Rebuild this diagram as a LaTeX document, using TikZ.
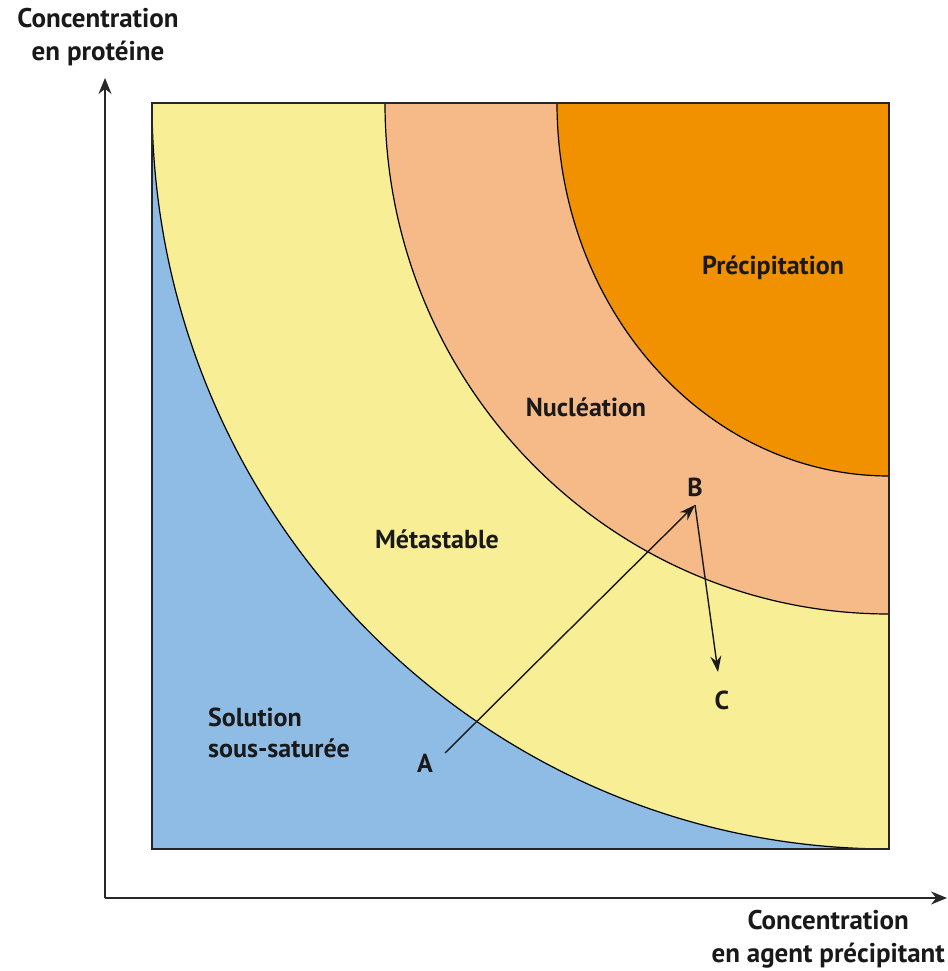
\documentclass[tikz,border=0pt]{standalone}
\usepackage{fontspec}
\setmainfont{PT Sans}
\usetikzlibrary{arrows.meta}
\definecolor{cblue}{RGB}{142,188,228}
\definecolor{cyellow}{RGB}{247,238,150}
\definecolor{clorange}{RGB}{246,186,136}
\definecolor{cdorange}{RGB}{241,145,0}
\definecolor{caxis}{RGB}{40,40,40}
\tikzset{
  lab/.style={font=\bfseries\fontsize{26}{31}\selectfont, text=black!90, inner sep=0pt},
  axlab/.style={font=\bfseries\fontsize{27}{33}\selectfont, text=black!90, inner sep=0pt, align=center},
  bnd/.style={draw=black, line width=1.2pt},
  axis/.style={draw=caxis, line width=2pt, -{Stealth[length=16pt,width=13pt]}},
  move/.style={draw=black!90, line width=1.4pt, -{Stealth[length=16pt,width=11pt]}}
}
\begin{document}
\begin{tikzpicture}[x=1pt,y=1pt]
\useasboundingbox (0,0) rectangle (947,971);
% regions
\fill[cyellow] (152,122) rectangle (889,868);
\fill[cblue] (152,868) arc[start angle=180,end angle=270,x radius=737,y radius=746] -- (152,122) -- cycle;
\fill[clorange] (385,868) arc[start angle=180,end angle=270,x radius=504,y radius=511] -- (889,868) -- cycle;
\fill[cdorange] (557,868) arc[start angle=180,end angle=270,x radius=332,y radius=373] -- (889,868) -- cycle;
% boundaries
\draw[bnd] (152,868) arc[start angle=180,end angle=270,x radius=737,y radius=746];
\draw[bnd] (385,868) arc[start angle=180,end angle=270,x radius=504,y radius=511];
\draw[bnd] (557,868) arc[start angle=180,end angle=270,x radius=332,y radius=373];
\draw[draw=black!85, line width=1.5pt] (152,122) rectangle (889,868);
% axes
\coordinate (O) at (105,73);
\coordinate (Ytop) at (105,893);
\coordinate (Xend) at (947,73);
\draw[axis] (O) -- (Ytop);
\draw[axis] (O) -- (Xend);
\node[axlab] (ylab) at (98,934) {Concentration\\en protéine};
\node[axlab, anchor=east] (xlab) at (945,32) {Concentration\\en agent précipitant};
% region labels
\node[lab] (prec) at (773,703) {Précipitation};
\node[lab] (nucl) at (586,564) {Nucléation};
\node[lab] (meta) at (437,432) {Métastable};
\node[lab, align=left, anchor=west] (sol) at (208,238) {Solution\\sous-saturée};
% points
\node[lab] (A) at (425,208) {A};
\node[lab] (B) at (695,484) {B};
\node[lab] (C) at (722,271) {C};
\coordinate (pA) at (445,218);
\coordinate (pB) at (695,466);
\coordinate (pC) at (718,299);
\draw[move] (pA) -- (pB);
\draw[move] (pB) -- (pC);
\end{tikzpicture}
\end{document}
